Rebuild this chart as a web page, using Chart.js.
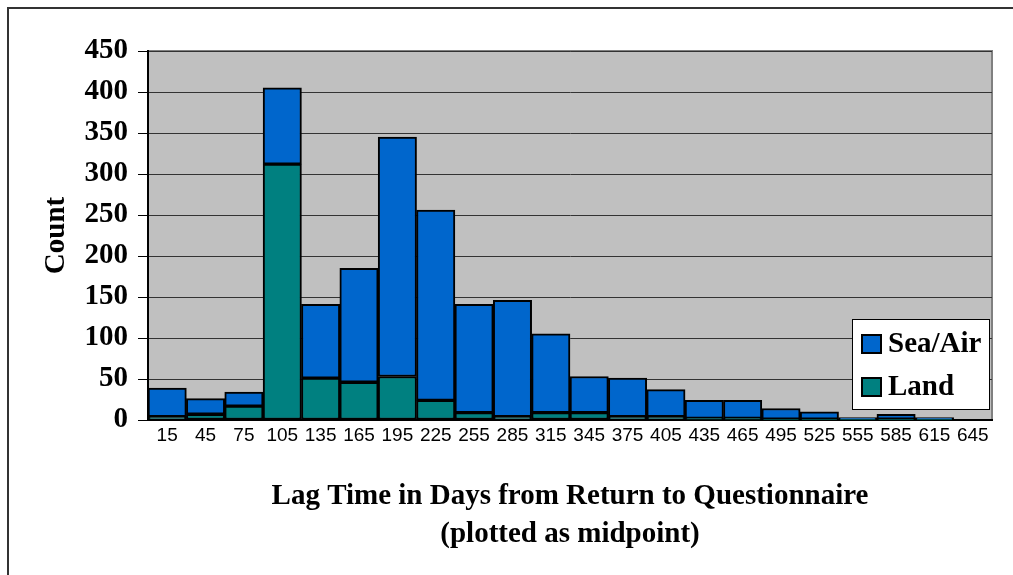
<!DOCTYPE html>
<html>
<head>
<meta charset="utf-8">
<script src="https://cdn.jsdelivr.net/npm/chart.js@4/dist/chart.umd.min.js"></script>
<style>
  html, body { margin: 0; padding: 0; background: #fff; }
  #wrap { width: 1013px; height: 575px; position: relative; }
</style>
</head>
<body>
<div id="wrap"><canvas id="lagChart" width="1013" height="575"></canvas></div>
<script>
// ======================
// DATA
// ======================
const categories = ["15", "45", "75", "105", "135", "165", "195", "225", "255", "285", "315",
                    "345", "375", "405", "435", "465", "495", "525", "555", "585", "615", "645"];
const landCounts = [4, 7, 17, 312, 51, 46, 53, 24, 9, 4, 9, 9, 4, 4, 2, 2, 1, 1, 1, 1, 1, null];
const seaAirCounts = [35, 19, 17, 93, 90, 139, 292, 232, 132, 142, 96, 44, 47, 33, 22, 22, 13, 9, 2, 6, 2, null];
const yTicks = [0, 50, 100, 150, 200, 250, 300, 350, 400, 450];

const SERIF = "'Liberation Serif', 'Times New Roman', serif";

// ======================
// PLOT BACKGROUND + FRAME
// ======================
const framePlugin = {
    id: "frame",
    beforeDraw(chart) {
        const { ctx, chartArea: a } = chart;
        ctx.save();
        // outer frame (top + left)
        ctx.strokeStyle = "#333";
        ctx.lineWidth = 2;
        ctx.beginPath();
        ctx.moveTo(8, chart.height);
        ctx.lineTo(8, 8);
        ctx.lineTo(chart.width, 8);
        ctx.stroke();
        // grey plot area
        ctx.fillStyle = "#c0c0c0";
        ctx.fillRect(a.left, a.top, a.right - a.left, a.bottom - a.top);
        ctx.strokeStyle = "#808080";
        ctx.beginPath();
        ctx.moveTo(a.left, a.top);
        ctx.lineTo(a.right, a.top);
        ctx.lineTo(a.right, a.bottom);
        ctx.stroke();
        ctx.restore();
    }
};

// ======================
// LEGEND INSIDE PLOT
// ======================
const boxLegendPlugin = {
    id: "boxLegend",
    afterDraw(chart) {
        const { ctx, chartArea: a } = chart;
        const w = 137, h = 90;
        const x = a.right - 3 - w, y = a.bottom - 11 - h;
        ctx.save();
        ctx.fillStyle = "#fff";
        ctx.fillRect(x, y, w, h);
        ctx.strokeStyle = "#000";
        ctx.lineWidth = 1;
        ctx.strokeRect(x + 0.5, y + 0.5, w, h);
        const items = chart.data.datasets.slice().reverse();
        ctx.font = "bold 29px " + SERIF;
        ctx.textBaseline = "middle";
        items.forEach((ds, i) => {
            const cy = y + 25 + i * 43;
            ctx.fillStyle = ds.backgroundColor;
            ctx.fillRect(x + 10, cy - 9, 19, 18);
            ctx.strokeStyle = "#000";
            ctx.lineWidth = 2;
            ctx.strokeRect(x + 10, cy - 9, 19, 18);
            ctx.fillStyle = "#000";
            ctx.fillText(ds.label, x + 36, cy + 1);
        });
        ctx.restore();
    }
};

// ======================
// CHART
// ======================
new Chart(document.getElementById("lagChart"), {
    type: "bar",
    data: {
        labels: categories,
        datasets: [
            {
                label: "Land",
                data: landCounts,
                backgroundColor: "#008080",
                borderColor: "#000",
                borderWidth: 2,
                borderSkipped: false
            },
            {
                label: "Sea/Air",
                data: seaAirCounts,
                backgroundColor: "#0066cc",
                borderColor: "#000",
                borderWidth: 2,
                borderSkipped: false
            }
        ]
    },
    options: {
        responsive: false,
        animation: false,
        layout: { padding: { left: 0, top: 51, right: 21, bottom: 0 } },
        datasets: { bar: { categoryPercentage: 1, barPercentage: 1 } },
        plugins: {
            legend: { display: false },
            tooltip: { enabled: false }
        },
        scales: {
            x: {
                stacked: true,
                grid: { display: false, drawTicks: false },
                border: { color: "#000", width: 2 },
                ticks: {
                    color: "#000",
                    padding: 4,
                    maxRotation: 0,
                    autoSkip: false,
                    font: { family: "'Liberation Sans', Arial, sans-serif", size: 19 }
                },
                title: {
                    display: true,
                    text: ["Lag Time in Days from Return to Questionnaire", "(plotted as midpoint)"],
                    color: "#000",
                    font: { family: SERIF, weight: "bold", size: 29, lineHeight: 1.31 },
                    padding: { top: 0, bottom: 21 }
                },
                afterFit(scale) { scale.height = 155; }
            },
            y: {
                stacked: true,
                min: 0,
                max: 450,
                afterBuildTicks(scale) { scale.ticks = yTicks.map(v => ({ value: v })); },
                grid: { color: "#333", lineWidth: 1, tickLength: 10, tickColor: "#000" },
                border: { color: "#000", width: 2 },
                ticks: {
                    color: "#000",
                    padding: 10,
                    font: { family: SERIF, weight: "bold", size: 29 }
                },
                title: {
                    display: true,
                    text: "Count",
                    color: "#000",
                    font: { family: SERIF, weight: "bold", size: 29, lineHeight: 1.2 },
                    padding: { top: 39, bottom: 0 }
                },
                afterFit(scale) { scale.width = 148; }
            }
        }
    },
    plugins: [framePlugin, boxLegendPlugin]
});
</script>
</body>
</html>
